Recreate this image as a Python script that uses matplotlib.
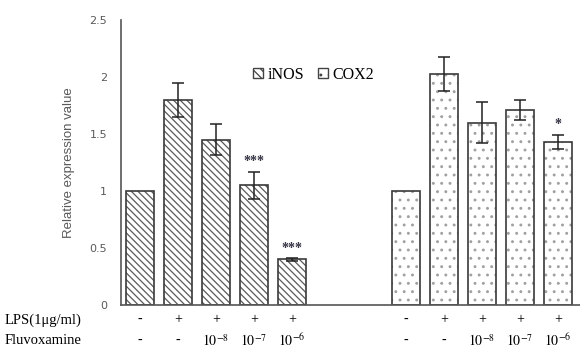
import numpy as np
import matplotlib.pyplot as plt
from matplotlib.patches import Patch

plt.rcParams['mathtext.fontset'] = 'stix'
plt.rcParams['hatch.linewidth'] = 0.9

inos = [1.0, 1.80, 1.45, 1.05, 0.40]
inos_err = [0.0, 0.15, 0.135, 0.12, 0.01]
cox2 = [1.0, 2.03, 1.60, 1.71, 1.43]
cox2_err = [0.0, 0.15, 0.18, 0.09, 0.065]
lps = ['-', '+', '+', '+', '+']
fluvox = ['-', '-', r'$10^{-8}$', r'$10^{-7}$', r'$10^{-6}$']
inos_stars = ['', '', '', '***', '***']
cox2_stars = ['', '', '', '', '*']

x1 = np.arange(5)
x2 = np.arange(5) + 7
w = 0.73

fig = plt.figure(figsize=(5.8, 3.49), dpi=100)
ax = fig.add_axes([0.2086, 0.126, 0.7914, 0.8166])

# hatch layer then outline layer
ax.bar(x1, inos, w, color='white', edgecolor='#5a5a5a', hatch='\\\\\\\\\\', linewidth=0)
ax.bar(x1, inos, w, color='none', edgecolor='#3a3a3a', linewidth=1.2)
ax.bar(x2, cox2, w, color='white', edgecolor='#a0a0a0', hatch='..', linewidth=0)
ax.bar(x2, cox2, w, color='none', edgecolor='#3a3a3a', linewidth=1.2)

for xs, v, e in [(x1, inos, inos_err), (x2, cox2, cox2_err)]:
    xs = [a for a, b in zip(xs, e) if b > 0]
    vv = [a for a, b in zip(v, e) if b > 0]
    ee = [b for b in e if b > 0]
    ax.errorbar(xs, vv, yerr=ee, fmt='none', ecolor='#222222', elinewidth=1.1, capsize=4, capthick=1.1)

for xs, v, e, s in [(x1, inos, inos_err, inos_stars), (x2, cox2, cox2_err, cox2_stars)]:
    for a, b, c, d in zip(xs, v, e, s):
        if d:
            ax.text(a, b + c + 0.03, d, ha='center', va='bottom', fontsize=10,
                    fontweight='bold', color='#333344', family='Liberation Serif')

ax.set_xlim(-0.5, 11.58)
ax.set_ylim(0, 2.5)
ax.set_yticks([0, 0.5, 1, 1.5, 2, 2.5])
ax.set_yticklabels(['0', '0.5', '1', '1.5', '2', '2.5'])
ax.tick_params(axis='y', length=0, pad=10, labelsize=8, labelcolor='#595959')
ax.set_xticks([])
for s in ['top', 'right']:
    ax.spines[s].set_visible(False)
ax.spines['left'].set_color('#555555')
ax.spines['bottom'].set_color('#555555')
ax.spines['left'].set_linewidth(1.2)
ax.spines['bottom'].set_linewidth(1.2)
ax.set_ylabel('Relative expression value', fontsize=9.5, color='#595959', labelpad=10,
              family='Liberation Sans')

tr = ax.get_xaxis_transform()
for xs in [x1, x2]:
    for a, l, f in zip(xs, lps, fluvox):
        ax.text(a, -0.05, l, transform=tr, ha='center', va='center', fontsize=10,
                family='Liberation Serif', clip_on=False)
        ax.text(a, -0.125, f, transform=tr, ha='center', va='center', fontsize=10,
                family='Liberation Serif', clip_on=False)
fig.text(0.008, 1 - 320 / 349, 'LPS(1\u03bcg/ml)', ha='left', va='center',
         fontsize=10.5, family='Liberation Serif')
fig.text(0.008, 1 - 341 / 349, 'Fluvoxamine', ha='left', va='center',
         fontsize=10.5, family='Liberation Serif')

handles = [Patch(facecolor='white', edgecolor='#444444', hatch='\\\\\\\\', label='iNOS'),
           Patch(facecolor='white', edgecolor='#444444', hatch='..', label='COX2')]
ax.legend(handles=handles, loc='center', bbox_to_anchor=(0.42, 0.807), ncol=2, frameon=False,
          handlelength=0.6, handleheight=0.6, handletextpad=0.3, columnspacing=0.9,
          prop={'family': 'Liberation Serif', 'size': 11.5})

fig.savefig('out.png', dpi=100)
